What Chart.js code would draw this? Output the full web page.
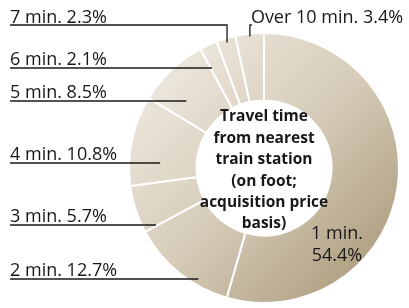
<!DOCTYPE html>
<html>
<head>
<meta charset="utf-8">
<script src="https://cdn.jsdelivr.net/npm/chart.js@4"></script>
<style>
  html, body { margin: 0; padding: 0; background: #fff; }
  #wrap { width: 409px; height: 308px; position: relative; }
</style>
</head>
<body>
<div id="wrap"><canvas id="chart"></canvas></div>
<script>
const categories = ['1 min.', '2 min.', '3 min.', '4 min.', '5 min.', '6 min.', '7 min.', 'Over 10 min.'];
const shares = [54.4, 12.7, 5.7, 10.8, 8.5, 2.1, 2.3, 3.4];
const centerTitle = ['Travel time', 'from nearest', 'train station', '(on foot;', 'acquisition price', 'basis)'];

// label layout: underline y, and how deep into the ring the leader ends (0 = inner edge, 1 = outer)
const lineY = [null, 279, 225, 163, 101, 68, 25, 25];
const leaderDepth = [null, 0.91, 0.81, 0.54, 0.52, 0.67, 0.94, 0.96];

const ink = '#1a1718';
const labelFont = '18px "Open Sans"';

function ringFill(context) {
    const area = context.chart.chartArea;
    if (!area) return '#d8ceba';
    const ctx = context.chart.ctx;
    const g = ctx.createLinearGradient(area.left, area.top, area.right, area.bottom);
    g.addColorStop(0, '#f4f1ea');
    g.addColorStop(0.5, '#d6ccb9');
    g.addColorStop(1, '#a39170');
    return g;
}

const labelsPlugin = {
    id: 'leaderLabels',
    afterDatasetsDraw(chart) {
        const ctx = chart.ctx;
        const arcs = chart.getDatasetMeta(0).data;
        const cx = arcs[0].x, cy = arcs[0].y;
        const inner = arcs[0].innerRadius, outer = arcs[0].outerRadius;

        ctx.save();
        ctx.strokeStyle = ink;
        ctx.lineWidth = 1.3;
        ctx.fillStyle = ink;
        ctx.font = labelFont;
        ctx.textBaseline = 'alphabetic';

        arcs.forEach((arc, i) => {
            if (i === 0) return;
            const text = categories[i] + ' ' + shares[i].toFixed(1) + '%';
            const r = inner + leaderDepth[i] * (outer - inner);
            const y = lineY[i];
            ctx.beginPath();
            if (i >= 6) {
                // top labels: vertical leader from the slice's middle
                const mid = (arc.startAngle + arc.endAngle) / 2;
                const ex = cx + r * Math.cos(mid);
                const ey = cy + r * Math.sin(mid);
                if (i === 6) {
                    ctx.moveTo(10, y);
                    ctx.lineTo(ex, y);
                    ctx.lineTo(ex, ey);
                    ctx.stroke();
                    ctx.textAlign = 'left';
                    ctx.fillText(text, 10, y - 2.5);
                } else {
                    ctx.moveTo(ex + 2, y);
                    ctx.lineTo(ex, y);
                    ctx.lineTo(ex, ey);
                    ctx.stroke();
                    ctx.textAlign = 'left';
                    ctx.fillText(text, ex + 1, y - 2);
                }
            } else {
                const dy = y - cy;
                const ex = cx - Math.sqrt(Math.max(r * r - dy * dy, 0));
                ctx.moveTo(10, y);
                ctx.lineTo(ex, y);
                ctx.stroke();
                ctx.textAlign = 'left';
                ctx.fillText(text, 10, y - 3);
            }
        });

        // the big slice carries its label inside the ring
        const a = -Math.PI / 2 + 136.5 * Math.PI / 180;
        const rr = 106;
        const lx = cx + rr * Math.cos(a), ly = cy + rr * Math.sin(a);
        ctx.textAlign = 'center';
        ctx.textBaseline = 'middle';
        ctx.fillText(categories[0], lx, ly - 11);
        ctx.fillText(shares[0].toFixed(1) + '%', lx, ly + 11);

        // centre title
        ctx.font = 'bold 15.5px "Open Sans"';
        const step = 21.4;
        const top = cy - step * (centerTitle.length - 1) / 2 + 2.5;
        centerTitle.forEach((line, k) => {
            ctx.fillText(line, cx, top + k * step);
        });
        ctx.restore();
    }
};

new Chart(document.getElementById('chart'), {
    type: 'doughnut',
    data: {
        labels: categories,
        datasets: [{
            data: shares,
            backgroundColor: ringFill,
            borderColor: '#ffffff',
            borderWidth: 2,
            hoverOffset: 0
        }]
    },
    options: {
        responsive: true,
        maintainAspectRatio: false,
        animation: false,
        cutout: '50%',
        layout: { padding: { left: 128, right: 9, top: 32, bottom: 4 } },
        plugins: {
            legend: { display: false },
            tooltip: { enabled: false }
        }
    },
    plugins: [labelsPlugin]
});
</script>
</body>
</html>
